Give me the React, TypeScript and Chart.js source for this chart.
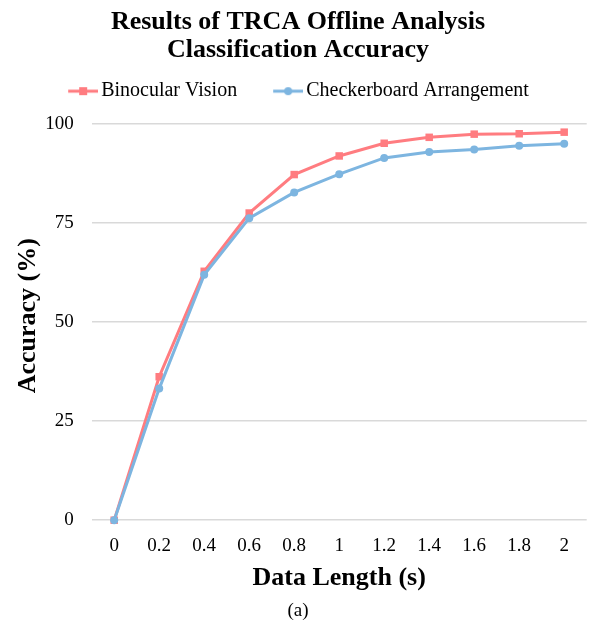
import React, { useEffect, useRef } from "react";
import { Chart, registerables } from "chart.js";

Chart.register(...registerables);

const categories = ["0", "0.2", "0.4", "0.6", "0.8", "1", "1.2", "1.4", "1.6", "1.8", "2"];
const binocular = [0, 36.2, 62.8, 77.5, 87.2, 91.9, 95.1, 96.6, 97.4, 97.5, 97.9];
const checkerboard = [0, 33.2, 61.9, 76.2, 82.7, 87.3, 91.4, 92.9, 93.5, 94.5, 95.0];
const yTicks = [0, 25, 50, 75, 100];

const RED = "#FF7C80";
const BLUE = "#7DB5E0";
const FONT = "'Liberation Serif', 'Times New Roman', serif";

// legend icon: 38px canvas, visible line+marker in the right 30px
function legendIcon(color: string, style: "rect" | "circle") {
  const c = document.createElement("canvas");
  c.width = 38;
  c.height = 12;
  const ctx = c.getContext("2d")!;
  ctx.strokeStyle = color;
  ctx.lineWidth = 3;
  ctx.beginPath();
  ctx.moveTo(8, 6);
  ctx.lineTo(38, 6);
  ctx.stroke();
  ctx.fillStyle = color;
  if (style === "rect") {
    ctx.fillRect(19, 2, 8, 8);
  } else {
    ctx.beginPath();
    ctx.arc(23, 6, 4, 0, Math.PI * 2);
    ctx.fill();
  }
  return c;
}

export default function App() {
  const ref = useRef<HTMLCanvasElement>(null);
  useEffect(() => {
    document.body.style.margin = "0";
    const iconRed = legendIcon(RED, "rect");
    const iconBlue = legendIcon(BLUE, "circle");
    const chart = new Chart(ref.current!, {
      type: "line",
      data: {
        labels: categories,
        datasets: [
          {
            label: "Checkerboard Arrangement",
            data: checkerboard,
            borderColor: BLUE,
            backgroundColor: BLUE,
            borderWidth: 3,
            pointStyle: "circle",
            pointRadius: 4,
            pointBorderWidth: 0,
            clip: false as any,
          },
          {
            label: "Binocular Vision",
            data: binocular,
            borderColor: RED,
            backgroundColor: RED,
            borderWidth: 3,
            pointStyle: "rect",
            pointRadius: 5.3,
            pointBorderWidth: 0,
            clip: false as any,
          },
        ],
      },
      options: {
        responsive: false,
        animation: false,
        layout: { padding: { left: 6, right: 2, top: 0, bottom: 2 } },
        plugins: {
          tooltip: { enabled: false },
          title: {
            display: true,
            text: ["Results of TRCA Offline Analysis", "Classification Accuracy"],
            color: "#000",
            font: { family: FONT, size: 26, weight: "bold", lineHeight: 1.08 },
            padding: { top: 8, bottom: 7 },
          },
          subtitle: {
            display: true,
            position: "bottom",
            text: "(a)",
            color: "#000",
            font: { family: FONT, size: 19, lineHeight: 1.2 },
            padding: { top: 3, bottom: 0 },
          },
          legend: {
            display: true,
            position: "top",
            labels: {
              usePointStyle: true,
              pointStyleWidth: 24,
              padding: 10,
              color: "#000",
              font: { family: FONT, size: 20 },
              generateLabels: () => [
                {
                  text: "Binocular Vision     ",
                  pointStyle: iconRed as any,
                  fillStyle: RED,
                  strokeStyle: RED,
                  lineWidth: 0,
                  hidden: false,
                  datasetIndex: 1,
                  fontColor: "#000",
                },
                {
                  text: "Checkerboard Arrangement",
                  pointStyle: iconBlue as any,
                  fillStyle: BLUE,
                  strokeStyle: BLUE,
                  lineWidth: 0,
                  hidden: false,
                  datasetIndex: 0,
                  fontColor: "#000",
                },
              ],
            },
          },
        },
        scales: {
          x: {
            type: "category",
            offset: true,
            grid: { display: false, drawTicks: false },
            border: { display: false },
            ticks: { color: "#000", font: { family: FONT, size: 19 }, padding: 14, maxRotation: 0 },
            title: {
              display: true,
              text: "Data Length (s)",
              color: "#000",
              font: { family: FONT, size: 26, weight: "bold", lineHeight: 1.2 },
              padding: { top: -8, bottom: 2 },
            },
          },
          y: {
            min: 0,
            max: 103.2,
            afterBuildTicks: (axis: any) => {
              axis.ticks = yTicks.map((v) => ({ value: v }));
            },
            grid: { color: "#D9D9D9", lineWidth: 1.5, drawTicks: false },
            border: { display: false },
            ticks: { color: "#000", font: { family: FONT, size: 19 }, padding: 18 },
            title: {
              display: true,
              text: "Accuracy (%)",
              color: "#000",
              font: { family: FONT, size: 26, weight: "bold", lineHeight: 1.2 },
              padding: { top: 7, bottom: -17 },
            },
          },
        },
      },
    });
    return () => chart.destroy();
  }, []);
  return (
    <div style={{ width: 592, height: 624 }}>
      <canvas ref={ref} width={592} height={624} />
    </div>
  );
}
